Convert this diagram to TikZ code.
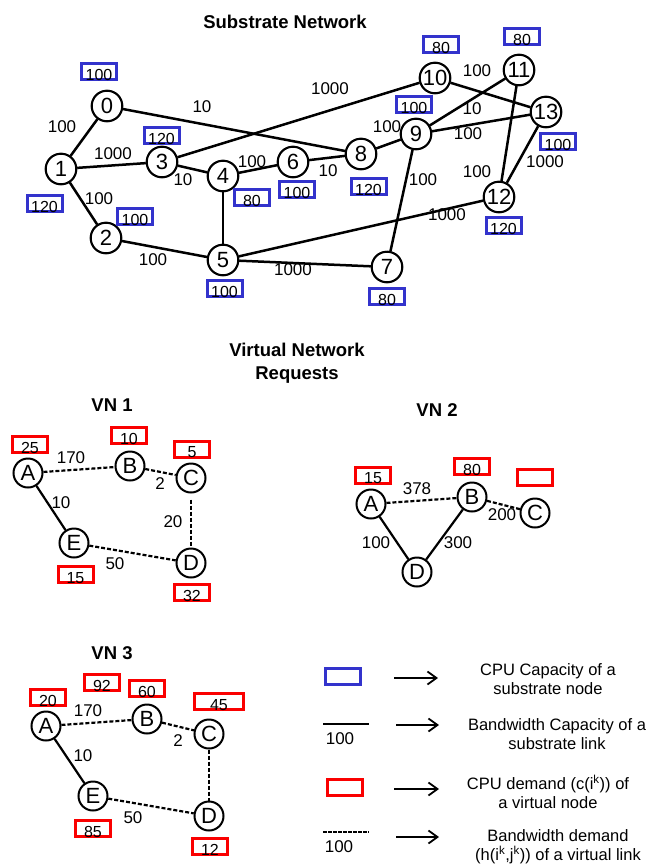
\documentclass[tikz,border=0pt]{standalone}
\usepackage{fontspec}
\setmainfont{Liberation Sans}
\usetikzlibrary{arrows.meta}
\definecolor{capblue}{RGB}{51,51,204}
\definecolor{demred}{RGB}{250,0,0}

\begin{document}
\begin{tikzpicture}[x=1pt,y=-1pt,
  snode/.style={circle,draw,fill=white,line width=2pt,minimum size=30.5pt,inner sep=0pt,font=\fontsize{22}{22}\selectfont},
  vnode/.style={circle,draw,fill=white,line width=2pt,minimum size=29pt,inner sep=0pt,font=\fontsize{22}{22}\selectfont},
  capbox/.style={draw=capblue,line width=3pt,minimum width=35pt,minimum height=16pt,inner sep=0pt},
  dembox/.style={draw=demred,line width=3pt,minimum width=35pt,minimum height=16pt,inner sep=0pt},
  boxnum/.style={inner sep=0pt,yshift=-3.5pt,font=\fontsize{16}{16}\selectfont},
  lbl/.style={inner sep=0pt,font=\fontsize{17}{17}\selectfont},
  heading/.style={inner sep=0pt,align=center,font=\fontsize{18.5}{23}\selectfont\bfseries},
  legtext/.style={inner sep=0pt,align=center,font=\fontsize{16.5}{19}\selectfont},
  slink/.style={line width=2.5pt},
  vlink/.style={line width=2.2pt,dash pattern=on 4pt off 2pt},
  vsolid/.style={line width=2.2pt},
  legarrow/.style={line width=1.8pt,-{Straight Barb[length=9pt,width=13pt,line width=1.8pt]}},
]
\useasboundingbox (0,0) rectangle (659,865);

% ---------------- substrate network ----------------
\node[heading] (subtitle) at (285,22) {Substrate Network};

\foreach \n/\x/\y in {0/107/106, 1/61/169, 2/106/238, 3/162/162, 4/223/176,
                      5/223/260, 6/293/162, 7/387/267, 8/361/154, 9/416/134,
                      10/435/78, 11/519/70, 12/499/197, 13/546/112}
  \node[snode] (s\n) at (\x,\y) {\n};

\foreach \a/\b in {0/1, 0/8, 1/3, 1/2, 3/4, 3/10, 2/5, 4/5, 4/6, 6/8, 8/9,
                   5/12, 5/7, 9/7, 9/11, 9/13, 10/13, 11/12, 13/12}
  \draw[slink] (s\a) -- (s\b);

% redraw nodes above the links
\foreach \n/\x/\y in {0/107/106, 1/61/169, 2/106/238, 3/162/162, 4/223/176,
                      5/223/260, 6/293/162, 7/387/267, 8/361/154, 9/416/134,
                      10/435/78, 11/519/70, 12/499/197, 13/546/112}
  \node[snode] at (\x,\y) {\n};

% link bandwidths
\foreach \nm/\x/\y/\v in {a/62/127/100, b/202/107/10, c/113/154/1000, d/99/199/100,
                          e/183/180/10, f/330/89/1000, g/153/260/100, h/252/162/100,
                          i/328/171/10, j/387/127/100, k/447/215/1000, l/293/270/1000,
                          m/423/180/100, n/472/109/10, o/468/134/100, p/477/71/100,
                          q/477/172/100, r/545/162/1000}
  \node[lbl] (bw\nm) at (\x,\y) {\v};

% CPU capacities
\foreach \n/\x/\y/\v in {0/99/71.5/100, 1/44.5/203.5/120, 2/135/216/100, 3/161.5/135/120,
                         4/252/197.5/80, 5/224.5/288/100, 6/297/189/100, 7/387/296.5/80,
                         8/368.5/186/120, 9/414/104.5/100, 10/441/44/80, 11/522/36/80,
                         12/503.5/225/120, 13/558/141/100}
{
  \node[capbox] (c\n) at (\x,\y) {};
  \node[boxnum] (cv\n) at (c\n) {\v};
}

% ---------------- virtual network requests ----------------
\node[heading] (vntitle) at (297,363) {Virtual Network\\Requests};

% VN 1
\node[heading] (vn1) at (112,405) {VN 1};
\node[vnode] (aA) at (28,473) {A};
\node[vnode] (aB) at (130,466) {B};
\node[vnode] (aC) at (191,478) {C};
\node[vnode] (aE) at (74,543) {E};
\node[vnode] (aD) at (191,563) {D};
\draw[vlink] (aA) -- (aB);
\draw[vlink] (aB) -- (aC);
\draw[vsolid] (aA) -- (aE);
\draw[vlink,shorten <=6pt] (aC) -- (aD);
\draw[vlink] (aE) -- (aD);
\node[lbl] (aAB) at (71,458) {170};
\node[lbl] (aBC) at (160,484) {2};
\node[lbl] (aAE) at (61,503) {10};
\node[lbl] (aCD) at (173,522) {20};
\node[lbl] (aED) at (115,564) {50};
\foreach \n/\x/\y/\v in {A/30/444.5/25, B/129/435.5/10, C/192/449/5, E/75.5/574.5/15, D/192/592.5/32}
{
  \node[dembox] (ad\n) at (\x,\y) {};
  \node[boxnum] (adv\n) at (ad\n) {\v};
}

% VN 2
\node[heading] (vn2) at (437,410) {VN 2};
\node[vnode] (bA) at (371,504) {A};
\node[vnode] (bB) at (472,497) {B};
\node[vnode] (bC) at (535,513) {C};
\node[vnode] (bD) at (417,572) {D};
\draw[vlink] (bA) -- (bB);
\draw[vlink] (bB) -- (bC);
\draw[vsolid] (bA) -- (bD);
\draw[vsolid] (bB) -- (bD);
\node[lbl] (bAB) at (417,489) {378};
\node[lbl] (bBC) at (502,515) {200};
\node[lbl] (bAD) at (376,543) {100};
\node[lbl] (bBD) at (458,543) {300};
\node[dembox] (bdA) at (373,475) {};
\node[boxnum] (bdvA) at (bdA) {15};
\node[dembox] (bdB) at (472,466) {};
\node[boxnum] (bdvB) at (bdB) {80};
\node[dembox] (bdC) at (534.5,477) {};

% VN 3
\node[heading] (vn3) at (112,653) {VN 3};
\node[vnode] (cA) at (46,726) {A};
\node[vnode] (cB) at (147,719) {B};
\node[vnode] (cC) at (209,734) {C};
\node[vnode] (cE) at (93,796) {E};
\node[vnode] (cD) at (209,816) {D};
\draw[vlink] (cA) -- (cB);
\draw[vlink] (cB) -- (cC);
\draw[vsolid] (cA) -- (cE);
\draw[vlink] (cC) -- (cD);
\draw[vlink] (cE) -- (cD);
\node[lbl] (cAB) at (88,711) {170};
\node[lbl] (cBC) at (178,741) {2};
\node[lbl] (cAE) at (83,756) {10};
\node[lbl] (cED) at (133,818) {50};
\foreach \n/\x/\y/\v in {A/48/697.5/20, X/102/682.5/92, B/147/688.5/60, E/93/828/85, D/210/846.5/12}
{
  \node[dembox] (cd\n) at (\x,\y) {};
  \node[boxnum] (cdv\n) at (cd\n) {\v};
}
\node[dembox,minimum width=49pt] (cdC) at (219,701.5) {};
\node[boxnum] (cdvC) at (cdC) {45};

% ---------------- legend ----------------
\node[capbox] (legcap) at (342.5,676) {};
\coordinate (la1) at (394,678);
\coordinate (lb1) at (438,678);
\draw[legarrow] (la1) -- (lb1);
\node[legtext] (lt1) at (548,679.5) {CPU Capacity of a\\substrate node};

\coordinate (ls1) at (323,724);
\coordinate (ls2) at (369,724);
\draw[slink] (ls1) -- (ls2);
\node[lbl] (lsv) at (340,738.5) {100};
\coordinate (la2) at (396,725);
\coordinate (lb2) at (439,725);
\draw[legarrow] (la2) -- (lb2);
\node[legtext] (lt2) at (557,734.5) {Bandwidth Capacity of a\\substrate link};

\node[dembox] (legdem) at (345,787.5) {};
\coordinate (la3) at (394,789);
\coordinate (lb3) at (439,789);
\draw[legarrow] (la3) -- (lb3);
\node[legtext] (lt3) at (548,792) {CPU demand (c(i\textsuperscript{k})) of\\a virtual node};

\coordinate (ld1) at (323,832);
\coordinate (ld2) at (369,832);
\draw[line width=2pt,dash pattern=on 3.5pt off 1.5pt] (ld1) -- (ld2);
\node[lbl] (ldv) at (339,847) {100};
\coordinate (la4) at (396,837);
\coordinate (lb4) at (439,837);
\draw[legarrow] (la4) -- (lb4);
\node[legtext] (lt4) at (558,846.5) {Bandwidth demand\\(h(i\textsuperscript{k},j\textsuperscript{k})) of a virtual link};

\end{tikzpicture}
\end{document}
